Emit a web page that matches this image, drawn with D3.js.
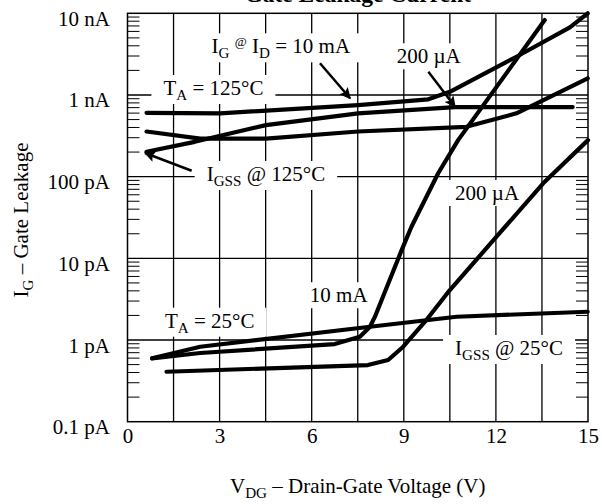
<!DOCTYPE html>
<html>
<head>
<meta charset="utf-8">
<script src="https://cdn.jsdelivr.net/npm/d3@7"></script>
<style>
  html, body { margin: 0; padding: 0; background: #fff; }
  svg { display: block; }
  text { font-family: "Liberation Serif", "Times New Roman", serif; fill: #000; }
</style>
</head>
<body>
<script>
// ---------------- data ----------------
const chartTitle = "Gate Leakage Current";
const voltTicks = [0, 3, 6, 9, 12, 15];
const voltGrid = [1.5, 3, 4.5, 6, 7.5, 9, 10.5, 12, 13.5];
const currentTicks = [0.1, 1, 10, 100, 1000, 10000];            // pA
const currentTickLabels = ["0.1 pA", "1 pA", "10 pA", "100 pA", "1 nA", "10 nA"];
const minorMultipliers = [2, 3, 4, 5, 6, 7, 8, 9];

// series: [V_DG (V), I_G (pA)]
const ig10mA125 = [[0.62, 605], [3.02, 596], [7.51, 752], [9.8, 884], [10.5, 1094], [12.67, 2938], [14.41, 6714], [14.99, 10000]];
const igss125   = [[0.62, 202], [2.19, 267], [4.51, 428], [7.51, 596], [10.67, 711], [14.5, 711]];
const ig200uA125 = [[0.62, 357], [2.37, 292], [4.51, 292], [7.51, 357], [11.04, 408], [12.67, 596], [14.99, 1600]];
const igss25    = [[0.8, 0.597], [2.37, 0.828], [7.9, 1.455], [10.72, 1.928], [14.99, 2.22]];
const ig10mA25  = [[0.8, 0.597], [2.37, 0.693], [6.75, 0.893], [7.57, 1.097], [7.9, 1.455], [8.06, 1.93], [8.93, 12.6], [9.25, 24.4], [10.12, 110], [10.77, 280], [13.59, 8260]];
const ig200uA25 = [[1.27, 0.409], [7.83, 0.494], [8.49, 0.569], [8.98, 0.828], [9.69, 1.675], [10.5, 4.09], [12.02, 18.4], [13.54, 82.8], [15.0, 280]];
const seriesList = [ig10mA125, igss125, ig200uA125, igss25, ig10mA25, ig200uA25];

// annotations (anchored in data units)
const annotations = [
  { v: 2.74, i: 3236, parts: [["I"], ["G", "sub"], [" "], ["@", "sup"], [" I"], ["D", "sub"], [" = 10 mA"]] },
  { v: 8.77, i: 2443, parts: [["200 µA"]] },
  { v: 1.17, i: 1000, parts: [["T"], ["A", "sub"], [" = 125°C"]] },
  { v: 2.58, i: 88.5, parts: [["I"], ["GSS", "sub"], [" @ 125°C"]] },
  { v: 10.67, i: 51.8, parts: [["200 µA"]] },
  { v: 5.94, i: 2.9, parts: [["10 mA"]] },
  { v: 1.22, i: 1.415, parts: [["T"], ["A", "sub"], [" = 25°C"]] },
  { v: 10.67, i: 0.656, parts: [["I"], ["GSS", "sub"], [" @ 25°C"]] }
];
const arrows = [
  { from: [6.27, 2443], to: [7.25, 911] },
  { from: [9.80, 1928], to: [10.67, 719] },
  { from: [2.09, 118], to: [0.57, 195] }
];

// ---------------- layout ----------------
const W = 602, H = 504;
const pLeft = 127.5, pRight = 588, pTop = 13.3, pBottom = 421.7;
const FS = 21;

const x = d3.scaleLinear().domain([0, 15]).range([pLeft, pRight]);
const y = d3.scaleLog().domain([0.1, 10000]).range([pBottom, pTop]);

const svg = d3.select("body").append("svg").attr("width", W).attr("height", H);

const gridL = svg.append("g");
const bgL = svg.append("g");
const curveL = svg.append("g");
const textL = svg.append("g");

// grid
gridL.selectAll("line.v").data(voltGrid).join("line").attr("class", "v")
  .attr("x1", d => x(d)).attr("x2", d => x(d))
  .attr("y1", pTop).attr("y2", pBottom)
  .attr("stroke", "#000").attr("stroke-width", 1.3);
gridL.selectAll("line.h").data(currentTicks.slice(1, -1)).join("line").attr("class", "h")
  .attr("x1", pLeft).attr("x2", pRight)
  .attr("y1", d => y(d)).attr("y2", d => y(d))
  .attr("stroke", "#000").attr("stroke-width", 1.3);

// minor ticks on both sides
const minors = [];
currentTicks.slice(0, -1).forEach(dec => minorMultipliers.forEach(m => minors.push(dec * m)));
gridL.selectAll("line.ml").data(minors).join("line").attr("class", "ml")
  .attr("x1", pLeft).attr("x2", pLeft + 12)
  .attr("y1", d => y(d)).attr("y2", d => y(d))
  .attr("stroke", "#000").attr("stroke-width", 1);
gridL.selectAll("line.mr").data(minors).join("line").attr("class", "mr")
  .attr("x1", pRight - 12).attr("x2", pRight)
  .attr("y1", d => y(d)).attr("y2", d => y(d))
  .attr("stroke", "#000").attr("stroke-width", 1);

// frame
gridL.append("rect").attr("x", pLeft).attr("y", pTop)
  .attr("width", pRight - pLeft).attr("height", pBottom - pTop)
  .attr("fill", "none").attr("stroke", "#000").attr("stroke-width", 1.5);

// axes labels
const xAxis = d3.axisBottom(x).tickValues(voltTicks).tickSize(0).tickPadding(0);
const gx = svg.append("g").attr("transform", `translate(0,${pBottom})`).call(xAxis);
gx.select(".domain").remove();
gx.selectAll("text").attr("y", 21).attr("dy", 0)
  .style("font-size", FS + "px").style("font-family", '"Liberation Serif", serif');

const yAxis = d3.axisLeft(y).tickValues(currentTicks)
  .tickFormat((d, i) => currentTickLabels[i]).tickSize(0).tickPadding(0);
const gy = svg.append("g").attr("transform", `translate(110,0)`).call(yAxis);
gy.select(".domain").remove();
gy.selectAll("text").attr("x", 0).attr("dy", 12)
  .style("font-size", FS + "px").style("font-family", '"Liberation Serif", serif');

// helper for rich text
function richText(sel, parts, size) {
  let shift = 0;
  parts.forEach(([t, kind]) => {
    const ts = sel.append("tspan").text(t);
    let target = 0, fs = size;
    if (kind === "sub") { target = 5; fs = size * 0.72; }
    if (kind === "sup") { target = -7; fs = size * 0.62; }
    ts.attr("dy", target - shift).style("font-size", fs + "px");
    shift = target;
  });
}

// title (cut off at the top edge, as in the reference)
svg.append("text").attr("x", (pLeft + pRight) / 2).attr("y", 2)
  .attr("text-anchor", "middle").style("font-weight", "bold").style("font-size", "23.5px")
  .text(chartTitle);

// axis titles
const xt = svg.append("text").attr("x", (pLeft + pRight) / 2).attr("y", 493)
  .attr("text-anchor", "middle").style("font-size", FS + "px");
richText(xt, [["V"], ["DG", "sub"], [" – Drain-Gate Voltage (V)"]], FS);

const yt = svg.append("text").attr("transform", "translate(28,220) rotate(-90)")
  .attr("text-anchor", "middle").style("font-size", FS + "px");
richText(yt, [["I"], ["G", "sub"], [" – Gate Leakage"]], FS);

// curves
const line = d3.line().x(d => x(d[0])).y(d => y(d[1])).curve(d3.curveLinear);
curveL.selectAll("path").data(seriesList).join("path")
  .attr("d", line).attr("fill", "none").attr("stroke", "#000")
  .attr("stroke-width", 4.2).attr("stroke-linejoin", "round").attr("stroke-linecap", "round");

// annotations with white backgrounds
annotations.forEach(a => {
  const t = textL.append("text").attr("x", x(a.v)).attr("y", y(a.i)).style("font-size", FS + "px");
  richText(t, a.parts, FS);
  const b = t.node().getBBox();
  bgL.append("rect").attr("x", b.x - 12).attr("y", b.y - 1)
    .attr("width", b.width + 24).attr("height", b.height + 2).attr("fill", "#fff");
});

// arrows
const defs = svg.append("defs");
defs.append("marker").attr("id", "ah").attr("viewBox", "0 0 10 10")
  .attr("refX", 9).attr("refY", 5).attr("markerWidth", 6).attr("markerHeight", 4.5)
  .attr("orient", "auto")
  .append("path").attr("d", "M0,0 L10,5 L0,10 L2,5 z").attr("fill", "#000");
textL.selectAll("line.arrow").data(arrows).join("line").attr("class", "arrow")
  .attr("x1", d => x(d.from[0])).attr("y1", d => y(d.from[1]))
  .attr("x2", d => x(d.to[0])).attr("y2", d => y(d.to[1]))
  .attr("stroke", "#000").attr("stroke-width", 2.5).attr("marker-end", "url(#ah)");
</script>
</body>
</html>
